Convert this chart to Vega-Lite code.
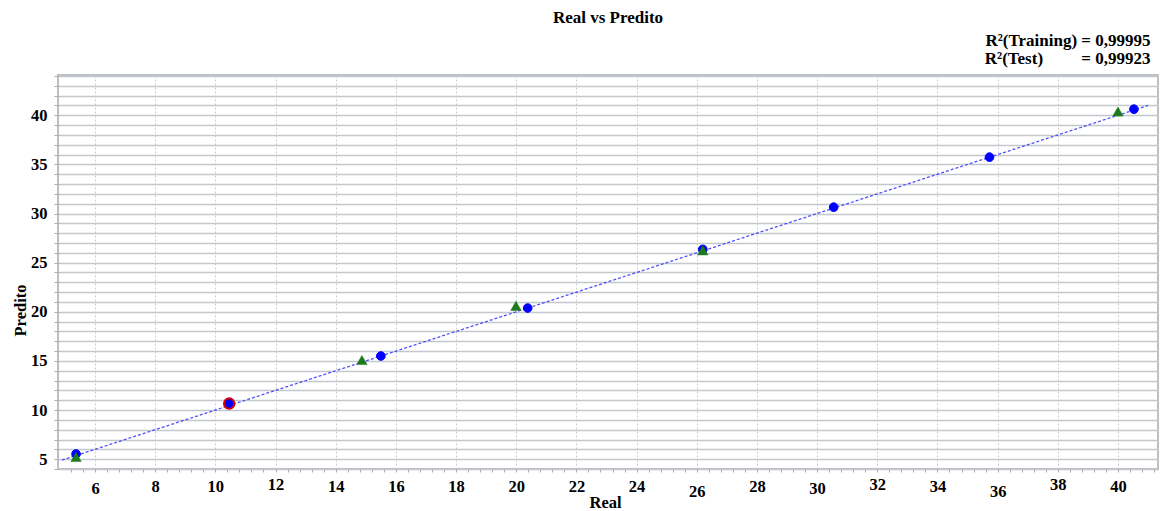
{
  "$schema": "https://vega.github.io/schema/vega-lite/v6.json",
  "width": 1100,
  "height": 394,
  "autosize": {"type": "none"},
  "padding": {"left": 58, "top": 75, "right": 3, "bottom": 42},
  "background": "white",
  "title": {
    "text": "Real vs Predito",
    "font": "Liberation Serif",
    "fontSize": 17,
    "fontWeight": "bold",
    "color": "#000000",
    "anchor": "middle",
    "offset": 4
  },
  "config": {
    "view": {"stroke": "#bcc0c4", "strokeWidth": 2},
    "font": "Liberation Serif"
  },
  "datasets": {
    "pontos": [
      {"real": 5.37, "predito": 5.53, "grupo": "Treinamento"},
      {"real": 15.50, "predito": 15.50, "grupo": "Treinamento"},
      {"real": 20.38, "predito": 20.38, "grupo": "Treinamento"},
      {"real": 26.20, "predito": 26.35, "grupo": "Treinamento"},
      {"real": 30.55, "predito": 30.65, "grupo": "Treinamento"},
      {"real": 35.73, "predito": 35.74, "grupo": "Treinamento"},
      {"real": 40.53, "predito": 40.62, "grupo": "Treinamento"},
      {"real": 10.46, "predito": 10.66, "grupo": "Selecionado"},
      {"real": 5.37, "predito": 5.22, "grupo": "Teste"},
      {"real": 14.87, "predito": 15.09, "grupo": "Teste"},
      {"real": 19.99, "predito": 20.60, "grupo": "Teste"},
      {"real": 26.20, "predito": 26.25, "grupo": "Teste"},
      {"real": 40.00, "predito": 40.38, "grupo": "Teste"}
    ],
    "linha": [
      {"real": 4.9, "predito": 4.9},
      {"real": 41.0, "predito": 41.0}
    ]
  },
  "layer": [
    {
      "data": {"name": "linha"},
      "mark": {"type": "line", "color": "#3333ff", "strokeWidth": 1.3, "strokeDash": [3, 2], "opacity": 0.85},
      "encoding": {
        "x": {
          "field": "real", "type": "quantitative",
          "scale": {"domain": [4.77, 41.33], "nice": false, "zero": false},
          "axis": {
            "orient": "top", "labels": false, "ticks": false, "domain": false, "grid": false,
            "title": ["R²(Training) = 0,99995", "R²(Test)\u00a0\u00a0\u00a0\u00a0\u00a0\u00a0\u00a0\u00a0\u00a0= 0,99923"],
            "titleFont": "Liberation Serif", "titleFontSize": 17, "titleFontWeight": "bold", "titleColor": "#000000",
            "titleAlign": "right", "titleBaseline": "alphabetic", "titleLineHeight": 18,
            "titleX": 1092, "titleY": -30, "titleAngle": 0
          }
        },
        "y": {
          "field": "predito", "type": "quantitative",
          "scale": {"domain": [4, 44.1], "nice": false, "zero": false},
          "axis": null
        }
      }
    },
    {
      "data": {"name": "pontos"},
      "mark": {"type": "point", "filled": true, "opacity": 1},
      "encoding": {
        "x": {
          "field": "real", "type": "quantitative",
          "scale": {"domain": [4.77, 41.33], "nice": false, "zero": false},
          "axis": {
            "orient": "bottom",
            "values": [5.2,5.6,6,6.4,6.8,7.2,7.6,8,8.4,8.8,9.2,9.6,10,10.4,10.8,11.2,11.6,12,12.4,12.8,13.2,13.6,14,14.4,14.8,15.2,15.6,16,16.4,16.8,17.2,17.6,18,18.4,18.8,19.2,19.6,20,20.4,20.8,21.2,21.6,22,22.4,22.8,23.2,23.6,24,24.4,24.8,25.2,25.6,26,26.4,26.8,27.2,27.6,28,28.4,28.8,29.2,29.6,30,30.4,30.8,31.2,31.6,32,32.4,32.8,33.2,33.6,34,34.4,34.8,35.2,35.6,36,36.4,36.8,37.2,37.6,38,38.4,38.8,39.2,39.6,40,40.4,40.8,41.2],
            "labelExpr": "datum.value % 2 === 0 ? format(datum.value, 'd') : ''",
            "labelFont": "Liberation Serif", "labelFontSize": 16.5, "labelFontWeight": "bold", "labelColor": "#000000",
            "labelBaseline": "alphabetic", "labelAngle": 0,
            "labelPadding": {"condition": [
              {"test": "datum.value === 26 || datum.value === 36", "value": 24},
              {"test": "datum.value === 12 || datum.value === 32 || datum.value === 38", "value": 17},
              {"test": "datum.value === 6 || datum.value === 30", "value": 21}
            ], "value": 19.5},
            "labelOverlap": false,
            "labelFlush": false,
            "domain": false,
            "tickSize": 3, "tickColor": "#a8acb0", "tickWidth": 1,
            "grid": true, "gridDash": [2, 2], "gridWidth": 1,
            "gridColor": {"condition": {"test": "datum.value % 2 === 0", "value": "#c8ccd0"}, "value": "rgba(255,255,255,0)"},
            "title": "Real",
            "titleFont": "Liberation Serif", "titleFontSize": 16.5, "titleFontWeight": "bold", "titleColor": "#000000",
            "titleBaseline": "alphabetic", "titleX": 547, "titleY": 38, "titleAlign": "center"
          }
        },
        "y": {
          "field": "predito", "type": "quantitative",
          "scale": {"domain": [4, 44.1], "nice": false, "zero": false},
          "axis": {
            "values": [4,5,6,7,8,9,10,11,12,13,14,15,16,17,18,19,20,21,22,23,24,25,26,27,28,29,30,31,32,33,34,35,36,37,38,39,40,41,42,43,44],
            "labelExpr": "datum.value % 5 === 0 ? format(datum.value, 'd') : ''",
            "labelFont": "Liberation Serif", "labelFontSize": 16.5, "labelFontWeight": "bold", "labelColor": "#000000",
            "labelPadding": 7, "labelOverlap": false, "labelFlush": false,
            "domain": false,
            "tickSize": 4, "tickColor": "#a8acb0",
            "grid": true, "gridColor": "#c4c8cc", "gridWidth": 1.5,
            "title": "Predito",
            "titleFont": "Liberation Serif", "titleFontSize": 16.5, "titleFontWeight": "bold", "titleColor": "#000000",
            "titleX": -30, "titleY": 235, "titleAngle": -90, "titleBaseline": "bottom", "titleAlign": "center"
          }
        },
        "shape": {
          "field": "grupo", "type": "nominal", "legend": null,
          "scale": {"domain": ["Treinamento", "Selecionado", "Teste"], "range": ["circle", "circle", "triangle-up"]}
        },
        "fill": {
          "field": "grupo", "type": "nominal", "legend": null,
          "scale": {"domain": ["Treinamento", "Selecionado", "Teste"], "range": ["#0000ff", "#0000ff", "#1e7a1e"]}
        },
        "stroke": {
          "field": "grupo", "type": "nominal", "legend": null,
          "scale": {"domain": ["Treinamento", "Selecionado", "Teste"], "range": ["#0000ff", "#dd0000", "#1e7a1e"]}
        },
        "strokeWidth": {
          "field": "grupo", "type": "nominal", "legend": null,
          "scale": {"type": "ordinal", "domain": ["Treinamento", "Selecionado", "Teste"], "range": [1, 2, 0.5]}
        },
        "size": {
          "field": "grupo", "type": "nominal", "legend": null,
          "scale": {"type": "ordinal", "domain": ["Treinamento", "Selecionado", "Teste"], "range": [75, 110, 110]}
        }
      }
    }
  ],
  "resolve": {"axis": {"x": "independent", "y": "independent"}}
}
